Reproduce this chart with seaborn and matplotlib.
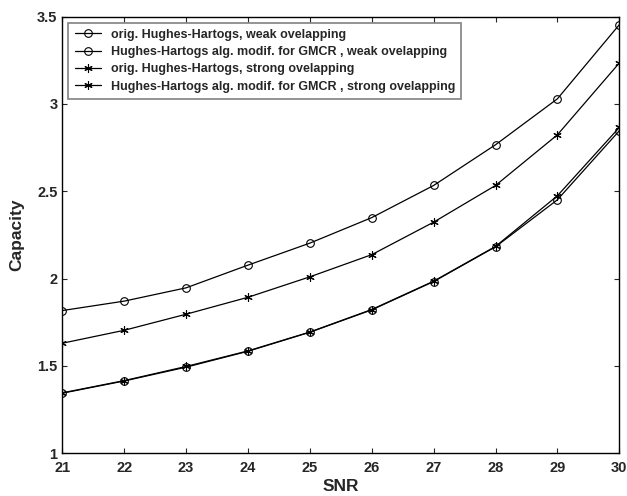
import matplotlib
matplotlib.use('Agg')
import matplotlib.pyplot as plt
from matplotlib.ticker import FormatStrFormatter
import numpy as np
import pandas as pd
import seaborn as sns

# =========================
#  DATA
# =========================

snr = [21, 22, 23, 24, 25, 26, 27, 28, 29, 30]

orig_weak = [1.344, 1.414, 1.493, 1.584, 1.693, 1.821, 1.983, 2.182, 2.451, 2.846]
modif_weak = [1.817, 1.871, 1.947, 2.077, 2.203, 2.349, 2.533, 2.766, 3.029, 3.453]
orig_strong = [1.346, 1.416, 1.497, 1.586, 1.694, 1.823, 1.985, 2.184, 2.474, 2.865]
modif_strong = [1.630, 1.704, 1.796, 1.893, 2.010, 2.137, 2.323, 2.533, 2.823, 3.234]

labels = [
    'orig. Hughes-Hartogs, weak ovelapping',
    'Hughes-Hartogs alg. modif. for GMCR , weak ovelapping',
    'orig. Hughes-Hartogs, strong ovelapping',
    'Hughes-Hartogs alg. modif. for GMCR , strong ovelapping',
]

# =========================
#  PLOT
# =========================

sns.set_style('ticks')
plt.rcParams['font.family'] = ['Liberation Sans', 'DejaVu Sans']
plt.rcParams['font.weight'] = 'bold'

fig = plt.figure(figsize=(6.27, 4.96), dpi=100)
ax = fig.add_axes([0.0994, 0.0861, 0.8883, 0.8806])

asterisk = (6, 2, 0)
series = [
    (orig_weak, 'o', 5.5),
    (modif_weak, 'o', 5.5),
    (orig_strong, asterisk, 6),
    (modif_strong, asterisk, 6),
]

for (vals, mk, ms), lab in zip(series, labels):
    df = pd.DataFrame({'snr': snr, 'cap': vals})
    sns.lineplot(data=df, x='snr', y='cap', ax=ax, color='black',
                 linewidth=0.9, marker=mk, markersize=ms,
                 markerfacecolor='none', markeredgecolor='black',
                 markeredgewidth=0.8, label=lab)

ax.set_xlim(21, 30)
ax.set_ylim(1, 3.5)
ax.set_xticks(np.arange(21, 31, 1))
ax.set_yticks(np.arange(1, 3.51, 0.5))
ax.yaxis.set_major_formatter(FormatStrFormatter('%g'))
ax.tick_params(direction='in', top=True, right=True, length=3.8,
               width=0.8, labelsize=10.5)
ax.tick_params(axis='x', pad=5.5)
ax.tick_params(axis='y', pad=3.5)
for lbl in ax.get_xticklabels() + ax.get_yticklabels():
    lbl.set_fontweight('bold')
for sp in ax.spines.values():
    sp.set_linewidth(1.0)
    sp.set_color('black')

ax.set_xlabel('SNR', fontsize=12.5, fontweight='bold', labelpad=3)
ax.set_ylabel('Capacity', fontsize=12.5, fontweight='bold', labelpad=9)

leg = ax.legend(loc='upper left', bbox_to_anchor=(0.0, 1.0),
                fontsize=9, frameon=True, fancybox=False,
                handlelength=2.15, handletextpad=0.75, borderpad=0.5,
                labelspacing=0.42, borderaxespad=0.48)
leg.get_frame().set_edgecolor('#6e6e6e')
leg.get_frame().set_linewidth(1.3)
for t in leg.get_texts():
    t.set_fontweight('bold')

plt.savefig('out.png', dpi=100)
plt.close()
